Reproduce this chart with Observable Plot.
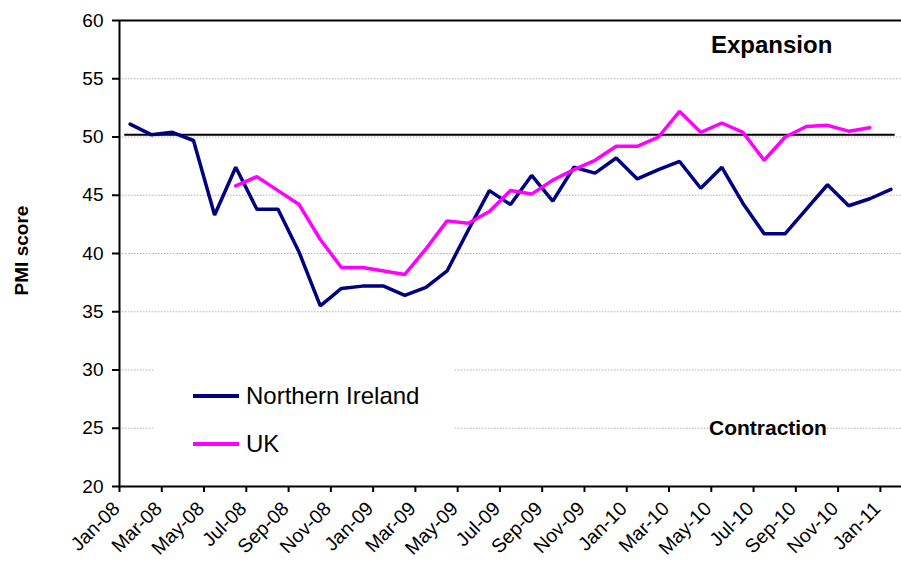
<!DOCTYPE html>
<html>
<head>
<meta charset="utf-8">
<script src="https://cdn.jsdelivr.net/npm/d3@7"></script>
<script src="https://cdn.jsdelivr.net/npm/@observablehq/plot@0.6"></script>
<style>
  html, body { margin: 0; padding: 0; background: white; }
  #wrap { position: relative; width: 901px; height: 566px; font-family: "Liberation Sans", Arial, sans-serif; overflow: hidden; }
  #wrap svg { position: absolute; left: 0; top: 0; }
  .ov { position: absolute; background: white; white-space: nowrap; color: black; }
</style>
</head>
<body>
<div id="wrap"></div>
<script>
const months = ["Jan-08","Feb-08","Mar-08","Apr-08","May-08","Jun-08","Jul-08","Aug-08","Sep-08","Oct-08","Nov-08","Dec-08",
  "Jan-09","Feb-09","Mar-09","Apr-09","May-09","Jun-09","Jul-09","Aug-09","Sep-09","Oct-09","Nov-09","Dec-09",
  "Jan-10","Feb-10","Mar-10","Apr-10","May-10","Jun-10","Jul-10","Aug-10","Sep-10","Oct-10","Nov-10","Dec-10",
  "Jan-11"];
const northernIreland = [51.1, 50.2, 50.4, 49.7, 43.3, 47.4, 43.8, 43.8, 40.1, 35.5, 37.0, 37.2,
  37.2, 36.4, 37.1, 38.5, 42.0, 45.4, 44.2, 46.7, 44.5, 47.4, 46.9, 48.2,
  46.4, 47.2, 47.9, 45.6, 47.4, 44.3, 41.7, 41.7, 43.8, 45.9, 44.1, 44.7,
  45.5];
const uk = [null, null, null, null, null, 45.8, 46.6, 45.4, 44.2, 41.2, 38.8, 38.8,
  38.5, 38.2, 40.4, 42.8, 42.6, 43.6, 45.4, 45.1, 46.3, 47.2, 48.0, 49.2,
  49.2, 50.0, 52.2, 50.4, 51.2, 50.4, 48.0, 50.0, 50.9, 51.0, 50.5, 50.8,
  null];
const yTicks = [20, 25, 30, 35, 40, 45, 50, 55, 60];
const threshold = 50.2;
const seriesNames = ["Northern Ireland", "UK"];
const seriesColors = ["#000080", "#ff00ff"];

const rows = months.map((m, i) => ({i, m, ni: northernIreland[i], uk: uk[i]}));
const boundaries = months.map((m, i) => i - 0.5).filter((b, i) => i % 2 === 0);
const labelRows = months.map((m, i) => ({b: i - 0.5, m})).filter((d, i) => i % 2 === 0);

const chart = Plot.plot({
  width: 901,
  height: 566,
  marginLeft: 119,
  marginRight: 0,
  marginTop: 20,
  marginBottom: 80,
  style: {fontFamily: "'Liberation Sans', Arial, sans-serif", background: "white", color: "black"},
  x: {type: "linear", domain: [-0.5, months.length - 0.5], axis: null},
  y: {domain: [20, 60], axis: null},
  marks: [
    Plot.ruleY(yTicks.filter(t => t > 20 && t < 60), {stroke: "#b0b0b0", strokeWidth: 1, strokeDasharray: "1.5,1.5"}),
    Plot.ruleY([60], {stroke: "black", strokeWidth: 2}),
    Plot.ruleY([20], {stroke: "black", strokeWidth: 2}),
    Plot.ruleX([-0.5], {stroke: "black", strokeWidth: 2}),
    Plot.axisY({ticks: yTicks, tickSize: 7, tickPadding: 9, fontSize: 19, tickFormat: d => String(d), label: null, strokeWidth: 2}),
    Plot.axisX({ticks: boundaries, tickSize: 6, tickFormat: () => "", label: null, strokeWidth: 2}),
    Plot.text(labelRows, {x: "b", frameAnchor: "bottom", text: "m", rotate: -45, textAnchor: "end", lineAnchor: "middle", dx: -3, dy: 19, fontSize: 19.5}),
    Plot.text(["PMI score"], {frameAnchor: "left", rotate: -90, dx: -98, dy: -3, fontSize: 19, fontWeight: "bold", textAnchor: "middle", lineAnchor: "middle"}),
    Plot.ruleY([threshold], {x1: -0.25, x2: months.length - 0.8, stroke: "black", strokeWidth: 2}),
    Plot.line(rows, {x: "i", y: "ni", stroke: seriesColors[0], strokeWidth: 3.5, strokeLinejoin: "miter"}),
    Plot.line(rows.filter(d => d.uk != null), {x: "i", y: "uk", stroke: seriesColors[1], strokeWidth: 3.5, strokeLinejoin: "miter"})
  ]
});

const wrap = document.getElementById("wrap");
wrap.appendChild(chart);

function addDiv(css, html) {
  const d = document.createElement("div");
  d.className = "ov";
  d.style.cssText = css;
  d.innerHTML = html;
  wrap.appendChild(d);
  return d;
}
// legend
const legend = addDiv("left:153px; top:362px; width:302px; height:112px;", "");
seriesNames.forEach((name, k) => {
  const cy = 34 + k * 48;
  const sw = document.createElement("div");
  sw.style.cssText = `position:absolute; left:40px; top:${cy - 2}px; width:46px; height:4px; background:${seriesColors[k]};`;
  legend.appendChild(sw);
  const t = document.createElement("div");
  t.style.cssText = `position:absolute; left:93px; top:${cy - 14}px; font-size:24px; line-height:28px;`;
  t.textContent = name;
  legend.appendChild(t);
});
addDiv("left:711px; top:31px; font-size:24px; line-height:28px; font-weight:bold;", "Expansion");
addDiv("left:709px; top:415px; font-size:21px; line-height:26px; font-weight:bold;", "Contraction");
</script>
</body>
</html>
